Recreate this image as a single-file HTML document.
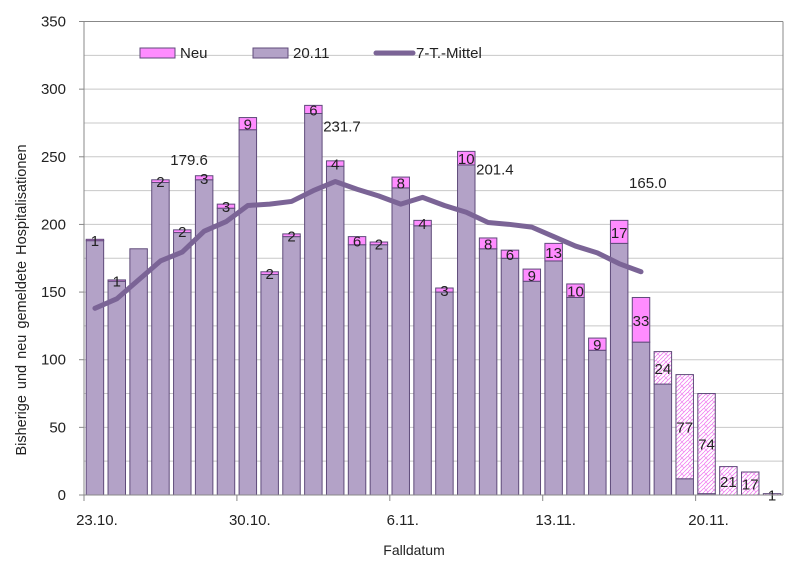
<!DOCTYPE html>
<html><head><meta charset="utf-8">
<style>
html,body{margin:0;padding:0;background:#fff;}
svg{display:block;font-family:"Liberation Sans",Arial,sans-serif;}
</style></head>
<body>
<svg id="chart" width="804" height="573" viewBox="0 0 804 573" xmlns="http://www.w3.org/2000/svg">
<defs>
<pattern id="hatch" patternUnits="userSpaceOnUse" width="8" height="8">
<rect width="8" height="8" fill="#fff"/>
<path d="M0,8 L8,0 M0,4 L4,0 M4,8 L8,4" stroke="#f07ef0" stroke-width="0.8"/>
<path d="M0,0 L4,4" stroke="#f07ef0" stroke-width="0.6"/>
</pattern>
</defs>
<g id="grid"></g>
<g id="bars"></g>
<g id="line"></g>
<g id="axes"></g>
<g id="legend">
<rect x="140" y="48" width="35" height="10" fill="#ff8cff" stroke="#5f4b7a" stroke-width="1"/>
<text x="180" y="58" font-size="15" fill="#222">Neu</text>
<rect x="253" y="48" width="35" height="10" fill="#b3a2c7" stroke="#5f4b7a" stroke-width="1"/>
<text x="293" y="58" font-size="15" fill="#222">20.11</text>
<line x1="376" y1="53" x2="413" y2="53" stroke="#7b6496" stroke-width="5" stroke-linecap="round"/>
<text x="416" y="58" font-size="15" fill="#222">7-T.-Mittel</text>
</g>
<text transform="translate(26,300) rotate(-90)" text-anchor="middle" font-size="14.5" fill="#222" word-spacing="2">Bisherige  und  neu gemeldete  Hospitalisationen</text>
<text x="414" y="555" text-anchor="middle" font-size="14" fill="#222">Falldatum</text>
</svg>
<script>
const baseValues = [188,158,182,231,194,233,212,270,163,191,282,243,185,185,227,199,150,244,182,175,158,173,146,107,186,113,82,12,1,0,0,0];
const newValues = [1,1,0,2,2,3,3,9,2,2,6,4,6,2,8,4,3,10,8,6,9,13,10,9,17,33,24,77,74,21,17,1];
const hatchedFrom = 26;
const avgValues = [138,145,159,173,179.6,195,202,214,215,217,225,231.7,226,221,215,220,214,209,201.4,200,198,191,184,179,171,165.0];
const avgLabelIdx = [4,11,18,25];
const yTicks = [0,50,100,150,200,250,300,350];
const xTickLabels = ["23.10.","30.10.","6.11.","13.11.","20.11."];
const xTickIdx = [0,7,14,21,28];

const NS="http://www.w3.org/2000/svg";
const L=84,R=783,T=21.5,B=495,YMAX=350;
const n=baseValues.length, cw=(R-L)/n, bw=cw*0.8;
const labelDy=[-87,-50,-48,-84];
function y(v){return B-(v/YMAX)*(B-T);}
function xc(i){return L+cw*(i+0.5);}
function mk(tag,attrs,parent){const e=document.createElementNS(NS,tag);for(const k in attrs)e.setAttribute(k,attrs[k]);parent.appendChild(e);return e;}
const grid=document.getElementById('grid'),bars=document.getElementById('bars'),line=document.getElementById('line'),axes=document.getElementById('axes');

for(let v=0;v<=YMAX;v+=25){
  const g=mk('line',{x1:L,x2:R,y1:y(v),y2:y(v),stroke:v===YMAX?'#888':'#c8c8c8','stroke-width':1},grid);
  
  
}
yTicks.forEach(v=>{
  const t=mk('text',{x:66,y:y(v)+5,'text-anchor':'end','font-size':15,fill:'#222'},axes);
  t.textContent=v;
  
  
  const tk=mk('line',{x1:L-5,x2:L,y1:y(v),y2:y(v),stroke:'#888'},axes);
  
  
});
mk('line',{x1:L,x2:L,y1:T,y2:B,stroke:'#888'},axes);
mk('line',{x1:L,x2:R,y1:B,y2:B,stroke:'#888'},axes);
mk('line',{x1:R,x2:R,y1:T,y2:B,stroke:'#888'},axes);
xTickIdx.forEach((idx,k)=>{
  const tx=L+cw*idx;
  const tk=mk('line',{x1:tx,x2:tx,y1:B,y2:B+6,stroke:'#888'},axes);
  
  
  const t=mk('text',{x:xc(idx)+2,y:B+30,'text-anchor':'middle','font-size':15,fill:'#222'},axes);
  t.textContent=xTickLabels[k];
  
  
});

for(let i=0;i<n;i++){
  const x0=xc(i)-bw/2, b=baseValues[i], nv=newValues[i];
  if(b>0){
    const r=mk('rect',{x:x0,y:y(b),width:bw,height:y(0)-y(b),fill:'#b3a2c7',stroke:'#5f4b7a','stroke-width':1},bars);
    
    
  }
  if(nv>0){
    const r=mk('rect',{x:x0,y:y(b+nv),width:bw,height:y(b)-y(b+nv),fill:i>=hatchedFrom?'url(#hatch)':'#ff8cff',stroke:'#5f4b7a','stroke-width':1},bars);
    
    
    const t=mk('text',{x:xc(i),y:(y(b)+y(b+nv))/2+6,'text-anchor':'middle','font-size':15,fill:'#222'},bars);
    t.textContent=nv;
    
    
  }
}
const pts=avgValues.map((v,i)=>xc(i)+','+y(v)).join(' ');
const pl=mk('polyline',{points:pts,fill:'none',stroke:'#7b6496','stroke-width':5,'stroke-linejoin':'round','stroke-linecap':'round'},line);


avgLabelIdx.forEach((i,k)=>{
  const t=mk('text',{x:xc(i)-12,y:y(avgValues[i])+labelDy[k],'font-size':15,fill:'#222'},line);
  t.textContent=avgValues[i].toFixed(1);
  
  
});
</script>
</body></html>
